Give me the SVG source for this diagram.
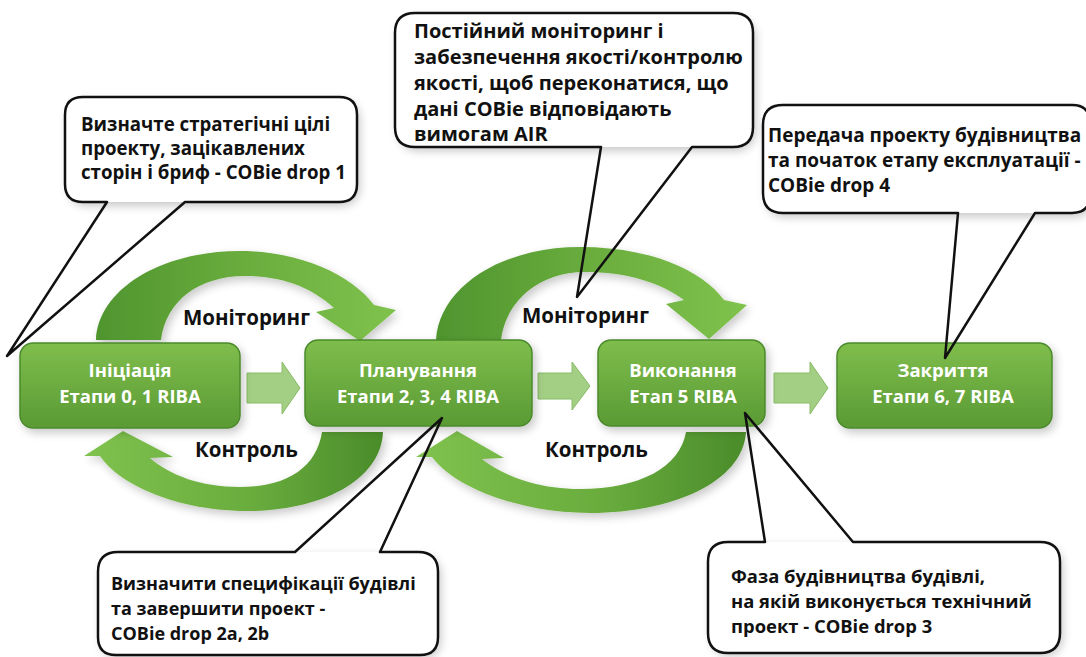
<svg xmlns="http://www.w3.org/2000/svg" width="1086" height="657" viewBox="0 0 1086 657">
<style>
.box{stroke:#4b8a2b;stroke-width:1.5;fill:url(#gBox)}
.btxt{font-family:"Open Sans",sans-serif;font-weight:bold;font-size:18.5px;fill:#ffffff;text-anchor:middle}
.lbl{font-family:"Open Sans",sans-serif;font-weight:bold;font-size:20.5px;fill:#111}
.ctxt{font-family:"Open Sans",sans-serif;font-weight:bold;fill:#111}
.cbody{fill:#ffffff}
.cline{fill:none;stroke:#111;stroke-width:2.5;stroke-linejoin:round}
.small{fill:#a3cf84;stroke:#88bb66;stroke-width:1}
</style>
<defs>
<linearGradient id="gBox" x1="0" y1="0" x2="0" y2="1">
<stop offset="0" stop-color="#7fbd4c"/>
<stop offset="1" stop-color="#5a9a34"/>
</linearGradient>
<linearGradient id="gTop" x1="0" y1="0" x2="1" y2="0">
<stop offset="0" stop-color="#4f952e"/>
<stop offset="0.5" stop-color="#6aad3e"/>
<stop offset="1" stop-color="#7fc24c"/>
</linearGradient>
<linearGradient id="gBot" x1="0" y1="0" x2="1" y2="0">
<stop offset="0" stop-color="#80c24e"/>
<stop offset="0.55" stop-color="#6aad3e"/>
<stop offset="1" stop-color="#4a8c2a"/>
</linearGradient>
<filter id="sh" x="-10%" y="-10%" width="130%" height="140%">
<feGaussianBlur in="SourceAlpha" stdDeviation="5"/>
<feOffset dx="3" dy="4"/>
<feComponentTransfer><feFuncA type="linear" slope="0.22"/></feComponentTransfer>
<feMerge><feMergeNode/><feMergeNode in="SourceGraphic"/></feMerge>
</filter>
</defs>
<rect width="1086" height="657" fill="#ffffff"/>

<g id="connectors">
<path id="arc-mon1" fill="url(#gTop)" filter="url(#sh)" d="M 96 340 C 98 290 160 251 240 251 C 300 251 352 275 374 305 L 396 310 L 360 341 L 316 312 L 334 308 C 310 286 280 276 245 276 C 200 276 166 300 161 340 Z"/>
<path id="arc-mon2" fill="url(#gTop)" filter="url(#sh)" d="M 436 340 C 439 288 500 247 580 247 C 650 247 702 270 724 300 L 747 305 L 709 339 L 666 304 L 684 300 C 660 282 625 272 585 272 C 540 272 506 300 501 340 Z"/>
<path id="arc-ctl1" fill="url(#gBot)" filter="url(#sh)" d="M 322 432 L 383 432 C 381 481 320 511 247 511 C 180 511 120 486 100 456 L 84 456 L 123 431 L 173 457 L 150 458 C 170 475 200 487 240 487 C 290 487 317 465 322 432 Z"/>
<path id="arc-ctl2" fill="url(#gBot)" filter="url(#sh)" d="M 686 432 L 746 432 C 743 483 670 513 590 513 C 520 513 455 488 432 457 L 416 457 L 457 431 L 504 458 L 482 459 C 505 477 540 489 580 489 C 640 489 680 467 686 432 Z"/>
<path id="flow1" class="small" d="M 247 373 H 282 V 362 L 300 388 L 282 414 V 403 H 247 Z"/>
<path id="flow2" class="small" d="M 538 373 H 572 V 362 L 590 386 L 572 410 V 399 H 538 Z"/>
<path id="flow3" class="small" d="M 774 373 H 810 V 362 L 828 388 L 810 414 V 403 H 774 Z"/>
<text class="lbl" x="183" y="325">Моніторинг</text>
<text class="lbl" x="522" y="323">Моніторинг</text>
<text class="lbl" x="195" y="457">Контроль</text>
<text class="lbl" x="545" y="457">Контроль</text>
</g>

<g id="n-init">
<rect class="box" x="20" y="343" width="220" height="85" rx="13" filter="url(#sh)"/>
<text class="btxt" x="130" y="377">Ініціація</text>
<text class="btxt" x="130" y="403">Етапи 0, 1 RIBA</text>
</g>
<g id="n-plan">
<rect class="box" x="305" y="340" width="227" height="86" rx="13" filter="url(#sh)"/>
<text class="btxt" x="418" y="377">Планування</text>
<text class="btxt" x="418" y="403">Етапи 2, 3, 4 RIBA</text>
</g>
<g id="n-exec">
<rect class="box" x="598" y="340" width="167" height="86" rx="13" filter="url(#sh)"/>
<text class="btxt" x="683" y="377">Виконання</text>
<text class="btxt" x="683" y="403">Етап 5 RIBA</text>
</g>
<g id="n-close">
<rect class="box" x="837" y="343" width="215" height="85" rx="13" filter="url(#sh)"/>
<text class="btxt" x="943" y="377">Закриття</text>
<text class="btxt" x="943" y="403">Етапи 6, 7 RIBA</text>
</g>

<g id="c1">
<rect class="cbody" x="65" y="97" width="292" height="105" rx="18" filter="url(#sh)"/>
<path class="cline" d="M 185 202 H 339 Q 357 202 357 184 V 115 Q 357 97 339 97 H 83 Q 65 97 65 115 V 184 Q 65 202 83 202 H 107 L 7 356 Z"/>
<text class="ctxt" font-size="18.7" x="81" y="131">Визначте стратегічні цілі</text>
<text class="ctxt" font-size="18.7" x="81" y="155">проекту, зацікавлених</text>
<text class="ctxt" font-size="18.7" x="81" y="179">сторін і бриф - COBie drop 1</text>
</g>
<g id="c2">
<rect class="cbody" x="395" y="13" width="358" height="134" rx="20" filter="url(#sh)"/>
<path class="cline" d="M 692 147 H 733 Q 753 147 753 127 V 33 Q 753 13 733 13 H 415 Q 395 13 395 33 V 127 Q 395 147 415 147 H 601 L 577 297 Z"/>
<text class="ctxt" font-size="20" x="414" y="38">Постійний моніторинг і</text>
<text class="ctxt" font-size="20" x="414" y="64">забезпечення якості/контролю</text>
<text class="ctxt" font-size="20" x="414" y="90">якості, щоб переконатися, що</text>
<text class="ctxt" font-size="20" x="414" y="116">дані COBie відповідають</text>
<text class="ctxt" font-size="20" x="414" y="141">вимогам AIR</text>
</g>
<g id="c3">
<rect class="cbody" x="763" y="105" width="327" height="108" rx="18" filter="url(#sh)"/>
<path class="cline" d="M 1035 213 H 1072 Q 1090 213 1090 195 V 123 Q 1090 105 1072 105 H 783 Q 763 105 763 125 V 193 Q 763 213 783 213 H 958 L 945 358 Z"/>
<text class="ctxt" font-size="19" x="768" y="142">Передача проекту будівництва</text>
<text class="ctxt" font-size="19" x="768" y="167">та початок етапу експлуатації -</text>
<text class="ctxt" font-size="19" x="768" y="192">COBie drop 4</text>
</g>
<g id="c4">
<rect class="cbody" x="98" y="552" width="340" height="103" rx="18" filter="url(#sh)"/>
<path class="cline" d="M 380 552 H 418 Q 438 552 438 572 V 637 Q 438 655 420 655 H 116 Q 98 655 98 637 V 572 Q 98 552 118 552 H 295 L 442 418 Z"/>
<text class="ctxt" font-size="18" x="111" y="590">Визначити специфікації будівлі</text>
<text class="ctxt" font-size="18" x="111" y="615">та завершити проект -</text>
<text class="ctxt" font-size="18" x="111" y="640">COBie drop 2a, 2b</text>
</g>
<g id="c5">
<rect class="cbody" x="708" y="542" width="352" height="111" rx="20" filter="url(#sh)"/>
<path class="cline" d="M 853 542 H 1040 Q 1060 542 1060 562 V 633 Q 1060 653 1040 653 H 728 Q 708 653 708 633 V 562 Q 708 542 728 542 H 765 L 745 413 Z"/>
<text class="ctxt" font-size="18.4" x="731" y="583">Фаза будівництва будівлі,</text>
<text class="ctxt" font-size="18.4" x="731" y="608">на якій виконується технічний</text>
<text class="ctxt" font-size="18.4" x="731" y="633">проект - COBie drop 3</text>
</g>
</svg>
